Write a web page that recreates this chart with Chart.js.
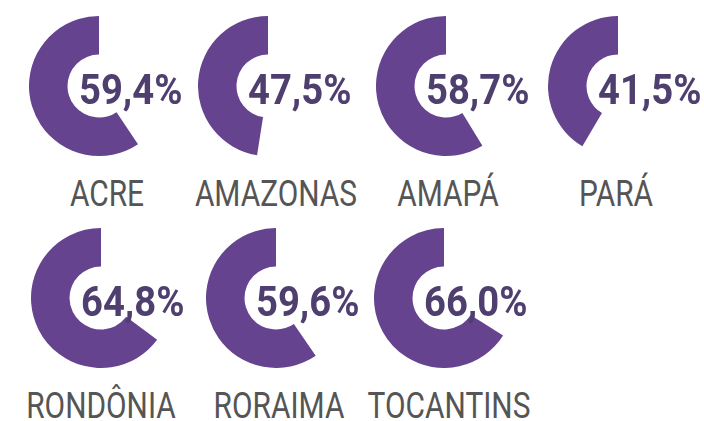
<!DOCTYPE html>
<html>
<head>
<meta charset="utf-8">
<script src="https://cdn.jsdelivr.net/npm/chart.js@4.4.1/dist/chart.umd.min.js"></script>
<style>
  html, body { margin: 0; padding: 0; background: #fff; overflow: hidden; }
  #board { position: relative; width: 704px; height: 421px; overflow: hidden; }
  .cell { position: absolute; width: 140px; height: 140px; }
  .cell canvas { position: absolute; left: 0; top: 0; }
  .pct {
    position: absolute; left: 50px; top: 52px; height: 44px; line-height: 44px;
    font-family: Roboto, "DejaVu Sans Condensed", sans-serif;
    font-weight: bold; font-size: 42px; color: #4e3f6f; white-space: nowrap;
    transform: scaleX(0.91); transform-origin: left center;
  }
  .label {
    position: absolute; width: 220px; top: 158px; height: 40px; line-height: 40px;
    text-align: center; font-family: Roboto, "DejaVu Sans Condensed", sans-serif;
    font-size: 36px; color: #555; white-space: nowrap;
    transform: scaleX(0.83); transform-origin: center center;
  }
</style>
</head>
<body>
<div id="board"></div>
<script>
const states = ['ACRE', 'AMAZONAS', 'AMAPÁ', 'PARÁ', 'RONDÔNIA', 'RORAIMA', 'TOCANTINS'];
const shares = [59.4, 47.5, 58.7, 41.5, 64.8, 59.6, 66.0];

// layout: centre of each ring on the page
const cellX = [99, 268, 446, 618, 101, 276, 444];
const cellY = [86, 86, 86, 86, 298, 298, 298];
const labelShift = [8, 8, 2, -2, 0, 3, 5];

const purple = '#65438f';
const board = document.getElementById('board');

states.forEach((name, i) => {
  const cell = document.createElement('div');
  cell.className = 'cell';
  cell.style.left = (cellX[i] - 70) + 'px';
  cell.style.top = (cellY[i] - 70) + 'px';

  const canvas = document.createElement('canvas');
  canvas.width = 140;
  canvas.height = 140;
  cell.appendChild(canvas);

  const pct = document.createElement('div');
  pct.className = 'pct';
  pct.textContent = shares[i].toFixed(1).replace('.', ',') + '%';
  cell.appendChild(pct);

  const label = document.createElement('div');
  label.className = 'label';
  label.style.left = (-40 + labelShift[i]) + 'px';
  label.textContent = name;
  cell.appendChild(label);

  board.appendChild(cell);

  // the filled part runs counter-clockwise from 12 o'clock, so the empty part goes first
  new Chart(canvas, {
    type: 'doughnut',
    data: {
      labels: ['', name],
      datasets: [
        {
          data: [100 - shares[i], shares[i]],
          backgroundColor: ['rgba(0, 0, 0, 0)', purple],
          borderWidth: 0
        }
      ]
    },
    options: {
      responsive: false,
      animation: false,
      events: [],
      cutout: '45%',
      plugins: {
        legend: { display: false },
        tooltip: { enabled: false }
      }
    }
  });
});
</script>
</body>
</html>
